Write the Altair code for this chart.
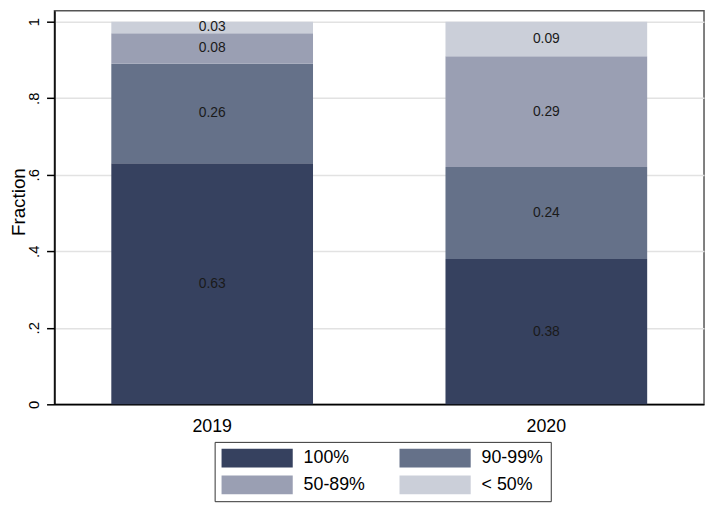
import altair as alt
import pandas as pd

years = ["2019", "2020"]
categories = ["100%", "90-99%", "50-89%", "< 50%"]
share_2019 = [0.63, 0.26, 0.08, 0.03]
share_2020 = [0.38, 0.24, 0.29, 0.09]
colors = ["#36415f", "#657189", "#9a9fb3", "#cbcfd9"]
y_ticks = [0, 0.2, 0.4, 0.6, 0.8, 1.0]

rows = []
for year, shares in zip(years, [share_2019, share_2020]):
    for i, (cat, v) in enumerate(zip(categories, shares)):
        rows.append({"year": year, "category": cat, "order": i, "share": v})
df = pd.DataFrame(rows)

FONT = "Liberation Sans"
ydomain = [0, 1.0284]

xenc = alt.X(
    "year:N", title=None,
    scale=alt.Scale(paddingInner=0.3964, paddingOuter=0.1701),
    axis=alt.Axis(labelAngle=0, labelFontSize=18, labelColor="black", ticks=False,
                  labelPadding=13, domainColor="black", domainWidth=1.5, grid=False,
                  labelFont=FONT),
)

yaxis = alt.Axis(
    values=y_ticks, title="Fraction",
    labelExpr="datum.value == 0 ? '0' : datum.value == 1 ? '1' : '.' + format(datum.value * 10, 'd')",
    labelAngle=-90, labelAlign="center", labelBaseline="alphabetic",
    labelFontSize=15, labelColor="black", labelFont=FONT, labelPadding=8,
    tickSize=8, tickColor="black", tickWidth=1.5, domainColor="black", domainWidth=1.5,
    titleFontSize=19, titleFontWeight="normal", titleColor="black", titleFont=FONT,
    titleAngle=-90, titleBaseline="alphabetic", titleAlign="center", titleX=-30, titleY=193,
    grid=True, gridColor="#e2e2e2", gridWidth=1.5,
)

base = alt.Chart(df)

bars = base.mark_bar().encode(
    x=xenc,
    y=alt.Y("share:Q", stack="zero", title="Fraction",
            scale=alt.Scale(domain=ydomain, nice=False), axis=yaxis),
    color=alt.Color(
        "category:N",
        scale=alt.Scale(domain=categories, range=colors),
        legend=alt.Legend(
            title=None, orient="none", legendX=162, legendY=436, columns=2,
            direction="horizontal",
            symbolType="M-1,-1H6.579V1H-1Z", symbolSize=361, symbolStrokeWidth=0,
            symbolOpacity=1, labelFontSize=18, labelFont=FONT, labelColor="black",
            strokeColor="#333333", fillColor="white", padding=7, rowPadding=8,
            columnPadding=34, labelOffset=64, labelLimit=300,
        ),
    ),
    order=alt.Order("order:Q", sort="ascending"),
)

labels = base.transform_window(
    cum="sum(share)", frame=[None, 0], sort=[alt.SortField("order")], groupby=["year"]
).transform_calculate(
    mid="datum.cum - datum.share / 2"
).mark_text(fontSize=14, color="#1a1a1a", font=FONT).encode(
    x=alt.X("year:N"),
    y=alt.Y("mid:Q", title="Fraction", scale=alt.Scale(domain=ydomain, nice=False)),
    text=alt.Text("share:Q", format=".2f"),
)

chart = alt.layer(bars, labels).properties(
    width=657, height=398,
    autosize=alt.AutoSizeParams(type="none"),
    padding={"left": 47, "top": 0, "right": 2, "bottom": 101},
).configure_view(stroke="#555555", strokeWidth=1.5)

chart.save("out.html", embed_options={"renderer": "svg", "actions": False})
